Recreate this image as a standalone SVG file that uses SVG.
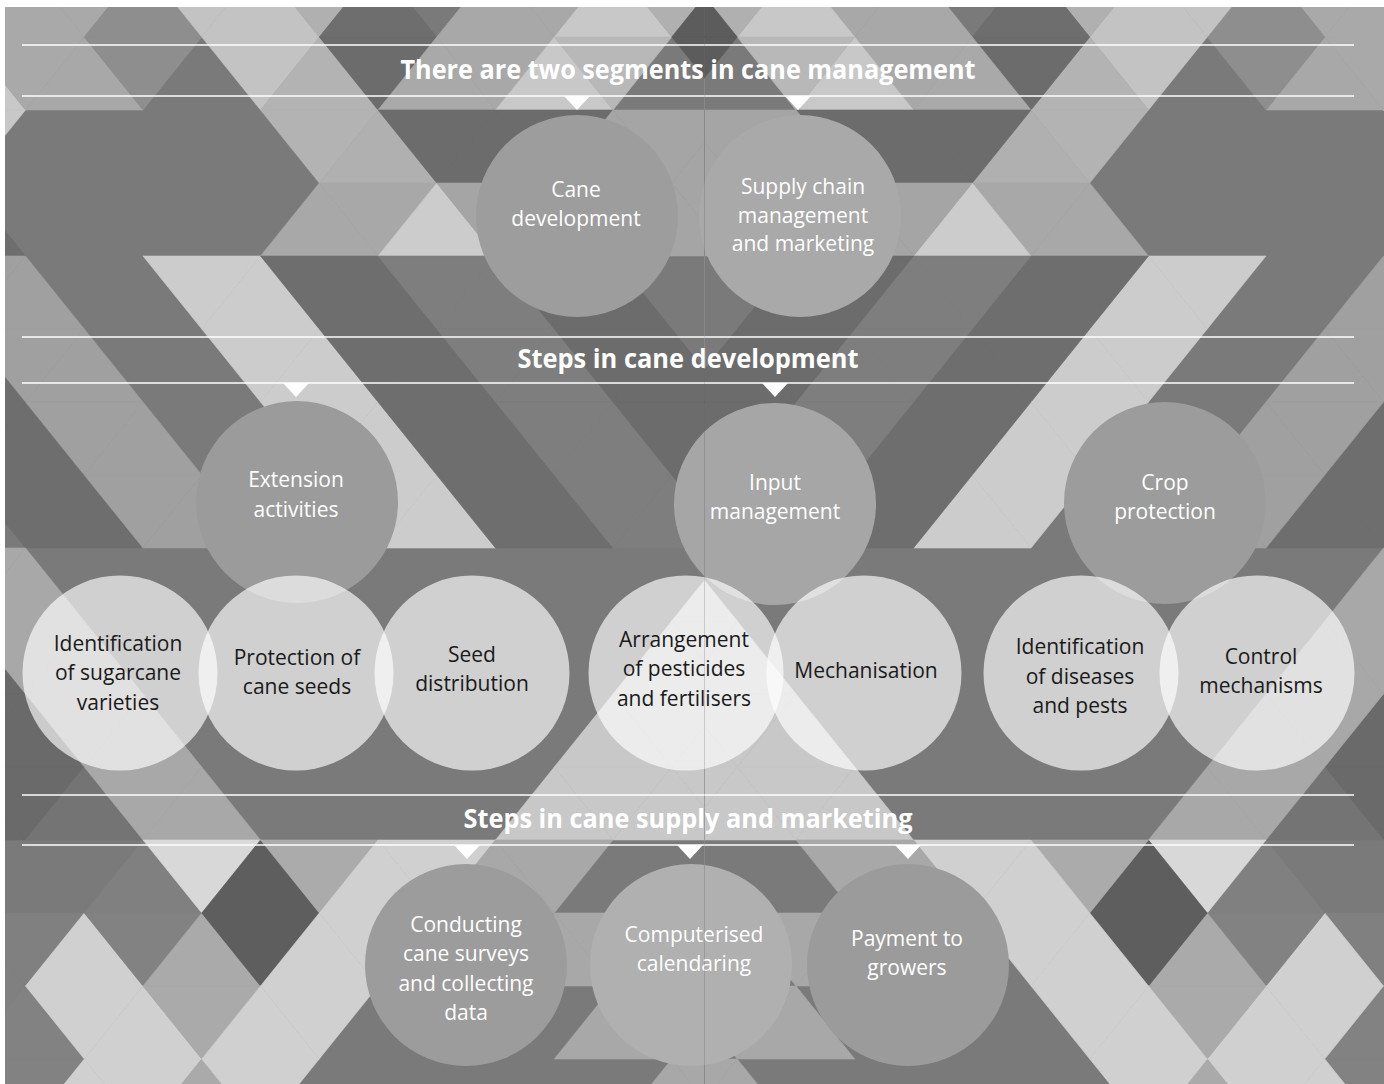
<svg xmlns="http://www.w3.org/2000/svg" xmlns:xlink="http://www.w3.org/1999/xlink" width="1384" height="1084" viewBox="0 0 1384 1084">
<style>
.ga9{fill:#a9a9a9;stroke:#a9a9a9}.ga8{fill:#a8a8a8;stroke:#a8a8a8}.ga0{fill:#a0a0a0;stroke:#a0a0a0}.ga5{fill:#a5a5a5;stroke:#a5a5a5}
.gaa{fill:#aaaaaa;stroke:#aaaaaa}.gab{fill:#ababab;stroke:#ababab}.gb0{fill:#b0b0b0;stroke:#b0b0b0}.gb3{fill:#b3b3b3;stroke:#b3b3b3}
.gb8{fill:#b8b8b8;stroke:#b8b8b8}.gc3{fill:#c3c3c3;stroke:#c3c3c3}.gc8{fill:#c8c8c8;stroke:#c8c8c8}.gcc{fill:#cccccc;stroke:#cccccc}
.gd0{fill:#d0d0d0;stroke:#d0d0d0}.gd8{fill:#d8d8d8;stroke:#d8d8d8}.g8e{fill:#8e8e8e;stroke:#8e8e8e}.g6e{fill:#6e6e6e;stroke:#6e6e6e}
.g6c{fill:#6c6c6c;stroke:#6c6c6c}.g6a{fill:#6a6a6a;stroke:#6a6a6a}.g5c{fill:#5c5c5c;stroke:#5c5c5c}.g5e{fill:#5e5e5e;stroke:#5e5e5e}
.g7e{fill:#7e7e7e;stroke:#7e7e7e}.g74{fill:#747474;stroke:#747474}.g80{fill:#808080;stroke:#808080}.g82{fill:#828282;stroke:#828282}
.rule{stroke:#ffffff;stroke-width:1.5}
.arrow{fill:#ffffff}
.title{font-family:"Open Sans","Liberation Sans",sans-serif;font-weight:bold;font-size:27px;fill:#ffffff;text-anchor:middle}
.wt{font-family:"Open Sans","Liberation Sans",sans-serif;font-size:21px;fill:#ffffff;text-anchor:middle}
.bt{font-family:"Open Sans","Liberation Sans",sans-serif;font-size:21px;fill:#1a1a1a;text-anchor:middle}
.lc{fill:#ffffff;fill-opacity:0.65}
</style>
<defs>
<path id="u" d="M0 0L58.75 73L-58.75 73Z"/>
<path id="d" d="M-58.75 0L58.75 0L0 73Z"/>
<clipPath id="cl"><rect x="5" y="7" width="699.5" height="1077"/></clipPath>
</defs>
<rect x="0" y="0" width="1384" height="1084" fill="#ffffff"/>
<g id="background">
<g id="half" clip-path="url(#cl)" stroke-width="0.6">
<rect x="0" y="0" width="710" height="1090" fill="#7a7a7a"/>
<use href="#d" x="-33.25" y="-36" class="ga9"/><use href="#u" x="25.5" y="-36" class="ga9"/><use href="#d" x="84.25" y="-36" class="ga9"/><use href="#u" x="143" y="-36" class="g8e"/><use href="#d" x="201.75" y="-36" class="gc3"/><use href="#u" x="260.5" y="-36" class="gc3"/><use href="#d" x="319.25" y="-36" class="gb0"/><use href="#u" x="378" y="-36" class="g6e"/><use href="#u" x="495.5" y="-36" class="ga8"/><use href="#d" x="554.25" y="-36" class="ga8"/><use href="#u" x="613" y="-36" class="gc8"/><use href="#d" x="671.75" y="-36" class="gb0"/><use href="#u" x="730.5" y="-36" class="g5c"/>
<use href="#u" x="-33.25" y="37" class="gc8"/><use href="#d" x="25.5" y="37" class="ga9"/><use href="#u" x="84.25" y="37" class="ga8"/><use href="#d" x="143" y="37" class="g8e"/><use href="#d" x="260.5" y="37" class="gc3"/><use href="#u" x="319.25" y="37" class="gb3"/><use href="#d" x="378" y="37" class="g6c"/><use href="#u" x="436.75" y="37" class="ga9"/><use href="#d" x="495.5" y="37" class="ga8"/><use href="#u" x="554.25" y="37" class="gc8"/><use href="#d" x="613" y="37" class="gb8"/><use href="#d" x="730.5" y="37" class="g5c"/>
<use href="#d" x="-33.25" y="110" class="gc8"/><use href="#d" x="319.25" y="110" class="gb3"/><use href="#u" x="378" y="110" class="gb0"/><use href="#d" x="436.75" y="110" class="g6c"/><use href="#u" x="495.5" y="110" class="g6c"/><use href="#d" x="554.25" y="110" class="g6c"/><use href="#u" x="613" y="110" class="ga5"/><use href="#d" x="671.75" y="110" class="ga5"/><use href="#u" x="730.5" y="110" class="ga5"/>
<use href="#u" x="-33.25" y="183" class="g6e"/><use href="#u" x="319.25" y="183" class="ga8"/><use href="#d" x="378" y="183" class="ga8"/><use href="#u" x="436.75" y="183" class="gcc"/><use href="#d" x="495.5" y="183" class="ga5"/><use href="#u" x="554.25" y="183" class="ga5"/><use href="#d" x="613" y="183" class="ga5"/><use href="#u" x="671.75" y="183" class="ga5"/><use href="#d" x="730.5" y="183" class="ga5"/>
<use href="#d" x="-33.25" y="256" class="ga0"/><use href="#u" x="25.5" y="256" class="ga0"/><use href="#d" x="201.75" y="256" class="gcc"/><use href="#u" x="260.5" y="256" class="gcc"/><use href="#d" x="319.25" y="256" class="g6e"/><use href="#u" x="378" y="256" class="g6e"/><use href="#d" x="436.75" y="256" class="g7e"/><use href="#u" x="495.5" y="256" class="g7e"/><use href="#d" x="554.25" y="256" class="g6c"/><use href="#u" x="613" y="256" class="g6c"/>
<use href="#u" x="-33.25" y="329" class="g6e"/><use href="#d" x="25.5" y="329" class="ga0"/><use href="#u" x="84.25" y="329" class="ga0"/><use href="#d" x="260.5" y="329" class="gcc"/><use href="#u" x="319.25" y="329" class="gcc"/><use href="#d" x="378" y="329" class="g6e"/><use href="#u" x="436.75" y="329" class="g6e"/><use href="#d" x="495.5" y="329" class="g7e"/><use href="#u" x="554.25" y="329" class="g7e"/><use href="#d" x="613" y="329" class="g6c"/><use href="#u" x="671.75" y="329" class="g6c"/>
<use href="#d" x="-33.25" y="402" class="g6e"/><use href="#u" x="25.5" y="402" class="g6e"/><use href="#d" x="84.25" y="402" class="ga0"/><use href="#u" x="143" y="402" class="ga0"/><use href="#d" x="319.25" y="402" class="gcc"/><use href="#u" x="378" y="402" class="gcc"/><use href="#d" x="436.75" y="402" class="g6e"/><use href="#u" x="495.5" y="402" class="g6e"/><use href="#d" x="554.25" y="402" class="g7e"/><use href="#u" x="613" y="402" class="g7e"/><use href="#d" x="671.75" y="402" class="g6c"/><use href="#u" x="730.5" y="402" class="g6c"/>
<use href="#d" x="25.5" y="475" class="g6e"/><use href="#u" x="84.25" y="475" class="g6e"/><use href="#d" x="143" y="475" class="ga0"/><use href="#u" x="201.75" y="475" class="ga0"/><use href="#d" x="378" y="475" class="gcc"/><use href="#u" x="436.75" y="475" class="gcc"/><use href="#d" x="495.5" y="475" class="g6e"/><use href="#u" x="554.25" y="475" class="g6e"/><use href="#d" x="613" y="475" class="g7e"/><use href="#u" x="671.75" y="475" class="g7e"/><use href="#d" x="730.5" y="475" class="g6c"/>
<use href="#d" x="-33.25" y="548" class="ga8"/><use href="#u" x="25.5" y="548" class="ga8"/><use href="#u" x="730.5" y="548" class="gc8"/>
<use href="#u" x="-33.25" y="621" class="g6a"/><use href="#d" x="25.5" y="621" class="ga8"/><use href="#u" x="84.25" y="621" class="ga8"/><use href="#u" x="671.75" y="621" class="gc8"/><use href="#d" x="730.5" y="621" class="gc8"/>
<use href="#d" x="-33.25" y="694" class="g6a"/><use href="#u" x="25.5" y="694" class="g6a"/><use href="#d" x="84.25" y="694" class="ga8"/><use href="#u" x="143" y="694" class="ga8"/><use href="#u" x="613" y="694" class="gc8"/><use href="#d" x="671.75" y="694" class="gc8"/><use href="#u" x="730.5" y="694" class="gc8"/>
<use href="#u" x="-33.25" y="767" class="g6a"/><use href="#d" x="25.5" y="767" class="g6a"/><use href="#u" x="84.25" y="767" class="g74"/><use href="#d" x="143" y="767" class="ga8"/><use href="#u" x="201.75" y="767" class="ga8"/><use href="#u" x="554.25" y="767" class="gc8"/><use href="#d" x="613" y="767" class="gc8"/><use href="#u" x="671.75" y="767" class="gc8"/><use href="#d" x="730.5" y="767" class="gc8"/>
<use href="#u" x="143" y="840" class="g80"/><use href="#d" x="201.75" y="840" class="gd8"/><use href="#u" x="260.5" y="840" class="g5e"/><use href="#d" x="319.25" y="840" class="gab"/><use href="#u" x="378" y="840" class="gd0"/><use href="#d" x="436.75" y="840" class="gd0"/><use href="#u" x="495.5" y="840" class="ga8"/><use href="#d" x="554.25" y="840" class="ga8"/>
<use href="#u" x="-33.25" y="913" class="g80"/><use href="#d" x="25.5" y="913" class="g80"/><use href="#u" x="84.25" y="913" class="gd0"/><use href="#d" x="143" y="913" class="g82"/><use href="#u" x="201.75" y="913" class="gaa"/><use href="#d" x="260.5" y="913" class="g5e"/><use href="#u" x="319.25" y="913" class="gd0"/><use href="#d" x="378" y="913" class="gd0"/><use href="#u" x="554.25" y="913" class="ga8"/><use href="#d" x="613" y="913" class="ga8"/>
<use href="#d" x="-33.25" y="986" class="g80"/><use href="#u" x="25.5" y="986" class="g82"/><use href="#d" x="84.25" y="986" class="gd0"/><use href="#u" x="143" y="986" class="gd0"/><use href="#d" x="201.75" y="986" class="gaa"/><use href="#u" x="260.5" y="986" class="gd0"/><use href="#d" x="319.25" y="986" class="gd0"/><use href="#u" x="613" y="986" class="ga8"/><use href="#d" x="671.75" y="986" class="ga8"/>
<use href="#u" x="-33.25" y="1059" class="g80"/><use href="#d" x="25.5" y="1059" class="g82"/><use href="#u" x="84.25" y="1059" class="gd0"/><use href="#d" x="143" y="1059" class="gd0"/><use href="#u" x="201.75" y="1059" class="gaa"/><use href="#d" x="260.5" y="1059" class="gd0"/><use href="#u" x="671.75" y="1059" class="ga8"/><use href="#d" x="730.5" y="1059" class="ga8"/>
</g>
<use href="#half" transform="matrix(-1 0 0 1 1409 0)"/>
</g>
<g id="rules">
<line class="rule" x1="22" y1="45" x2="1354" y2="45"/>
<line class="rule" x1="22" y1="96" x2="1354" y2="96"/>
<line class="rule" x1="22" y1="337" x2="1354" y2="337"/>
<line class="rule" x1="22" y1="383" x2="1354" y2="383"/>
<line class="rule" x1="22" y1="795" x2="1354" y2="795"/>
<line class="rule" x1="22" y1="845" x2="1354" y2="845"/>
</g>
<g id="titles">
<text id="title-segments" class="title" x="688" y="79" textLength="575" lengthAdjust="spacingAndGlyphs">There are two segments in cane management</text>
<text id="title-development" class="title" x="688" y="368" textLength="341" lengthAdjust="spacingAndGlyphs">Steps in cane development</text>
<text id="title-supply" class="title" x="688" y="828" textLength="449" lengthAdjust="spacingAndGlyphs">Steps in cane supply and marketing</text>
</g>
<g id="connectors">
<polygon class="arrow" points="564,96 590,96 577,110"/>
<polygon class="arrow" points="785,96 811,96 798,110"/>
<polygon class="arrow" points="283,383 309,383 296,397"/>
<polygon class="arrow" points="762,383 788,383 775,397"/>
<polygon class="arrow" points="454,845 480,845 467,859"/>
<polygon class="arrow" points="677,845 703,845 690,859"/>
<polygon class="arrow" points="895,845 921,845 908,859"/>
</g>
<g id="node-cane-development"><circle cx="577" cy="216" r="101" fill="#9d9d9d"/><text class="wt" x="576" y="197">Cane</text><text class="wt" x="576" y="226">development</text></g>
<g id="node-supply-chain"><circle cx="800" cy="216" r="101" fill="#a9a9a9"/><text class="wt" x="803" y="194">Supply chain</text><text class="wt" x="803" y="223">management</text><text class="wt" x="803" y="251">and marketing</text></g>
<g id="node-extension"><circle cx="297" cy="502" r="101" fill="#9b9b9b"/><text class="wt" x="296" y="487">Extension</text><text class="wt" x="296" y="517">activities</text></g>
<g id="node-input"><circle cx="775" cy="504" r="101" fill="#a6a6a6"/><text class="wt" x="775" y="490">Input</text><text class="wt" x="775" y="519">management</text></g>
<g id="node-crop"><circle cx="1165" cy="503" r="101" fill="#9c9c9c"/><text class="wt" x="1165" y="490">Crop</text><text class="wt" x="1165" y="519">protection</text></g>
<g id="node-id-varieties"><circle class="lc" cx="120" cy="673" r="97.5"/><text class="bt" x="118" y="651">Identification</text><text class="bt" x="118" y="680">of sugarcane</text><text class="bt" x="118" y="710">varieties</text></g>
<g id="node-protection-seeds"><circle class="lc" cx="296" cy="673" r="97.5"/><text class="bt" x="297" y="665">Protection of</text><text class="bt" x="297" y="694">cane seeds</text></g>
<g id="node-seed-distribution"><circle class="lc" cx="472" cy="673" r="97.5"/><text class="bt" x="472" y="662">Seed</text><text class="bt" x="472" y="691">distribution</text></g>
<g id="node-arrangement"><circle class="lc" cx="686" cy="673" r="97.5"/><text class="bt" x="684" y="647">Arrangement</text><text class="bt" x="684" y="676">of pesticides</text><text class="bt" x="684" y="706">and fertilisers</text></g>
<g id="node-mechanisation"><circle class="lc" cx="864" cy="673" r="97.5"/><text class="bt" x="866" y="678">Mechanisation</text></g>
<g id="node-id-diseases"><circle class="lc" cx="1081" cy="673" r="97.5"/><text class="bt" x="1080" y="654">Identification</text><text class="bt" x="1080" y="684">of diseases</text><text class="bt" x="1080" y="713">and pests</text></g>
<g id="node-control"><circle class="lc" cx="1257" cy="673" r="97.5"/><text class="bt" x="1261" y="664">Control</text><text class="bt" x="1261" y="693">mechanisms</text></g>
<g id="node-surveys"><circle cx="466" cy="965" r="101" fill="#9c9c9c"/><text class="wt" x="466" y="932">Conducting</text><text class="wt" x="466" y="961">cane surveys</text><text class="wt" x="466" y="991">and collecting</text><text class="wt" x="466" y="1020">data</text></g>
<g id="node-calendaring"><circle cx="691" cy="965" r="101" fill="#b0b0b0"/><text class="wt" x="694" y="942">Computerised</text><text class="wt" x="694" y="971">calendaring</text></g>
<g id="node-payment"><circle cx="908" cy="965" r="101" fill="#9b9b9b"/><text class="wt" x="907" y="946">Payment to</text><text class="wt" x="907" y="975">growers</text></g>
<line id="seam" x1="704.5" y1="7" x2="704.5" y2="1084" stroke="#000000" stroke-opacity="0.12" stroke-width="1"/>
</svg>
